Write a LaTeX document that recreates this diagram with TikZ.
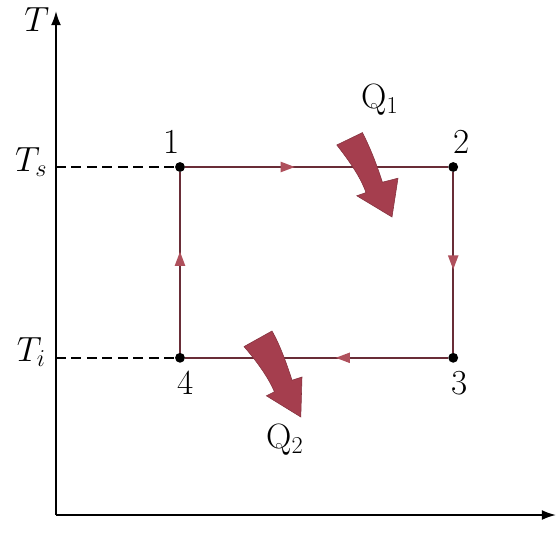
\documentclass[tikz,border=0pt]{standalone}
\usetikzlibrary{arrows.meta,decorations.markings}

\definecolor{linie}{RGB}{105,45,55}
\definecolor{pfeil}{RGB}{165,62,78}
\definecolor{spitze}{RGB}{175,80,92}

\tikzset{
  achse/.style={line width=1.3pt,-{Latex[length=10pt,width=7pt]}},
  punkt/.style={circle,fill=black,inner sep=0pt,minimum size=7pt},
  weg/.style={linie,line width=1.4pt,postaction={decorate},
    decoration={markings,mark=at position #1 with
      {\fill[spitze] (5pt,0) -- (-5pt,3.8pt) -- (-5pt,-3.8pt) -- cycle;}}},
  waerme/.style={pfeil,draw=pfeil!80!black,line width=0.4pt},
  beschr/.style={font=\fontsize{25}{30}\selectfont}
}

\begin{document}
\begin{tikzpicture}
  \useasboundingbox (0,0) rectangle (13.95,13.875);

  % Achsen
  \coordinate (O) at (1.4,1.0);
  \coordinate (Toben) at (1.4,13.6);
  \coordinate (Srechts) at (13.9,1.0);
  \draw[achse] (O) -- (Toben);
  \draw[achse] (O) -- (Srechts);
  \node[beschr] (T) at (0.92,13.38) {$T$};
  \node[beschr,anchor=north west,inner sep=0pt] (S) at (13.8,0.3) {$S$};

  % Eckpunkte des Kreisprozesses
  \node[punkt] (p1) at (4.5,9.7)    {};
  \node[punkt] (p2) at (11.33,9.7)  {};
  \node[punkt] (p3) at (11.33,4.93) {};
  \node[punkt] (p4) at (4.5,4.93)   {};
  \node[beschr] (n1) at (4.3,10.32)  {1};
  \node[beschr] (n2) at (11.55,10.32) {2};
  \node[beschr] (n3) at (11.5,4.3)  {3};
  \node[beschr] (n4) at (4.65,4.3)  {4};

  % Temperaturniveaus
  \coordinate (ts) at (1.4,9.7);
  \coordinate (ti) at (1.4,4.93);
  \node[beschr] (Ts) at (0.78,9.82) {$T_s$};
  \node[beschr] (Ti) at (0.78,5.07) {$T_i$};
  \draw[dashed,line width=1.1pt,dash pattern=on 7pt off 4pt] (ts) -- (p1);
  \draw[dashed,line width=1.1pt,dash pattern=on 7pt off 4pt] (ti) -- (p4);

  % Verbindungen mit Richtungspfeilen
  \draw[weg=0.39] (p1) -- (p2);
  \draw[weg=0.5]  (p2) -- (p3);
  \draw[weg=0.4]  (p3) -- (p4);
  \draw[weg=0.52] (p4) -- (p1);

  % Waermestroeme
  \fill[waerme] (8.42,10.25) .. controls (8.85,9.7) and (9.05,9.35) .. (9.15,9.06)
    -- (8.92,8.98) -- (9.8,8.45) -- (9.95,9.42) -- (9.56,9.32)
    .. controls (9.42,9.75) and (9.27,10.15) .. (9.06,10.56) -- cycle;
  \node[beschr] (Q1) at (9.5,11.38) {Q$_1$};

  \fill[waerme] (6.1,5.21) .. controls (6.5,4.75) and (6.75,4.35) .. (6.86,4.08)
    -- (6.66,3.98) -- (7.52,3.45) -- (7.55,4.45) -- (7.3,4.37)
    .. controls (7.16,4.8) and (7.0,5.25) .. (6.8,5.6) -- cycle;
  \node[beschr] (Q2) at (7.12,2.88) {Q$_2$};
\end{tikzpicture}
\end{document}
